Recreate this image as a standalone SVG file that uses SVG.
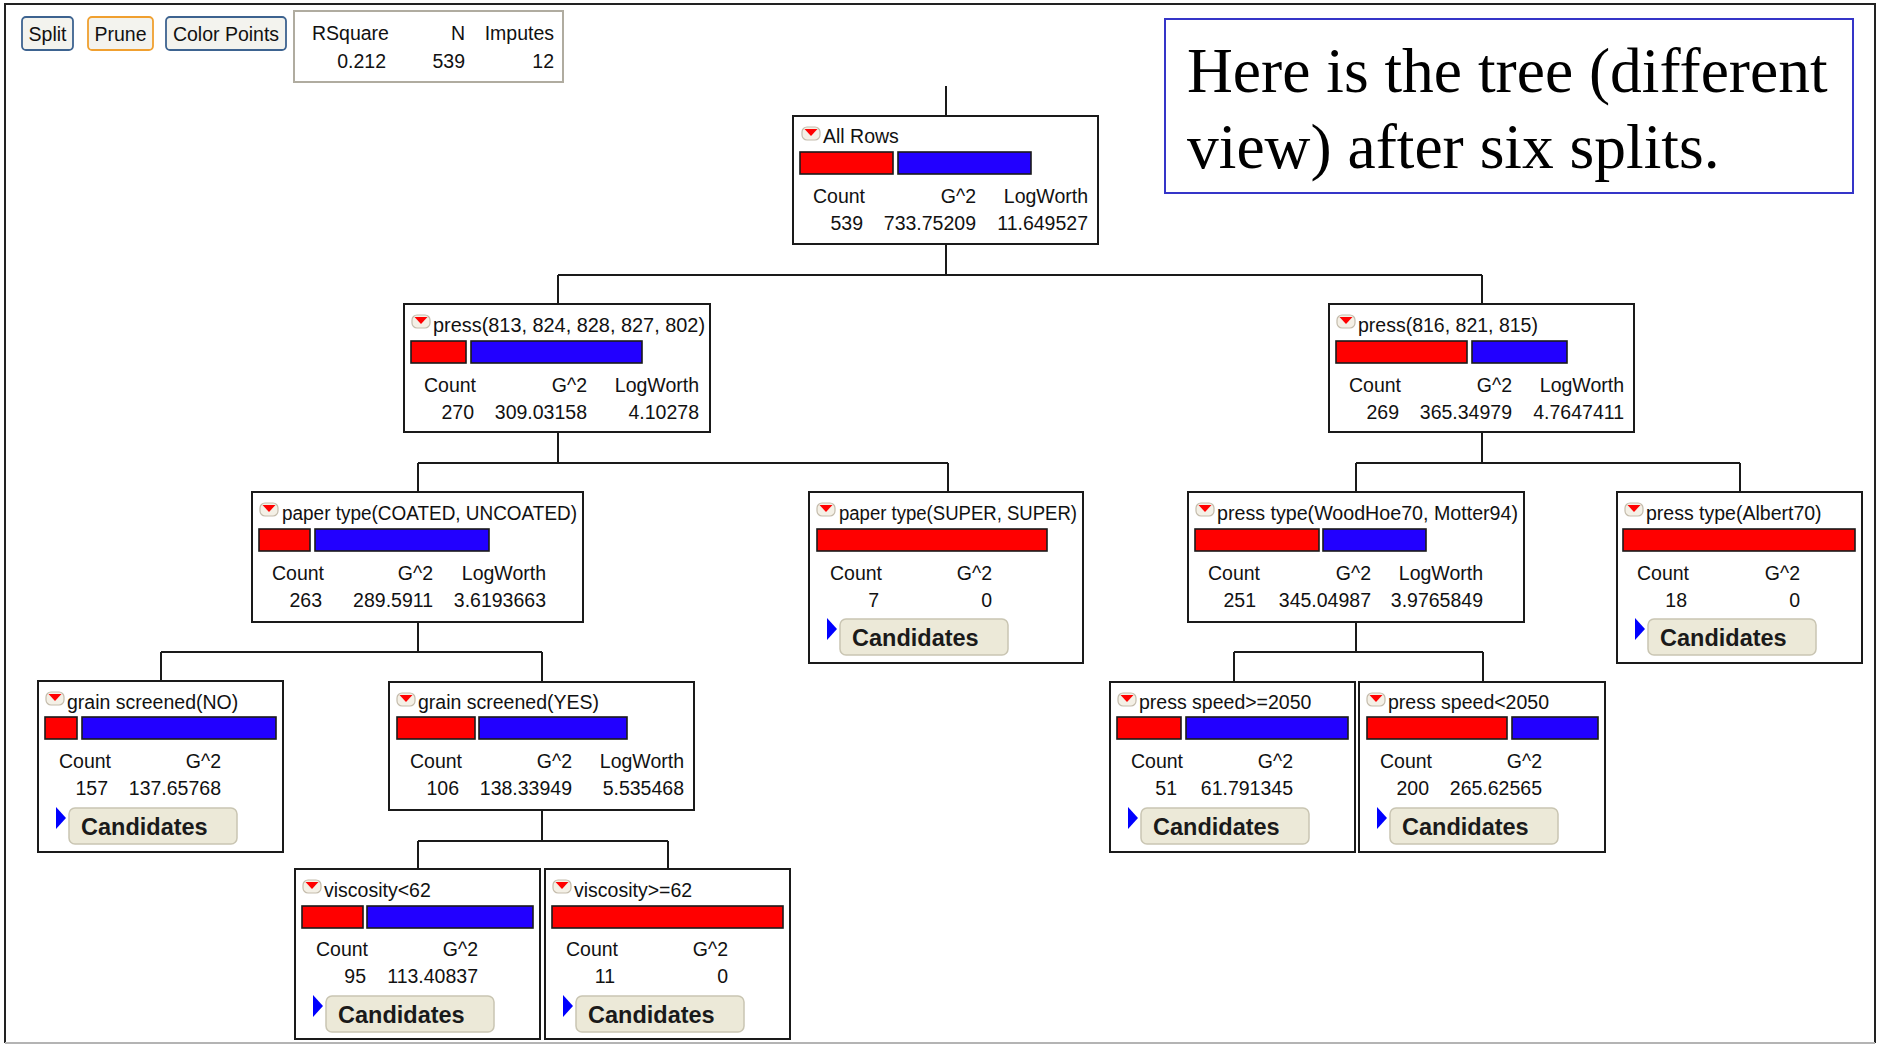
<svg xmlns="http://www.w3.org/2000/svg" width="1881" height="1046" viewBox="0 0 1881 1046">
  <defs>
    <style>
      .t { font-family: "Liberation Sans", Arial, sans-serif; font-size: 19.5px; fill: #111; }
      .r { text-anchor: end; }
      .box { fill: #fff; stroke: #1a1a1a; stroke-width: 2; }
      .red { fill: #ff0000; stroke: #1a1a1a; stroke-width: 1.6; }
      .blue { fill: #2200ff; stroke: #1a1a1a; stroke-width: 1.6; }
      .btn { fill: #ece9d8; stroke: #c9c5b2; stroke-width: 1.5; }
      .cand { font-family: "Liberation Sans", Arial, sans-serif; font-weight: bold; font-size: 23.5px; fill: #1a1a1a; }
      .tri { fill: #0000ff; }
      .link { fill: none; stroke: #1a1a1a; stroke-width: 2; }
      .tb { fill: #f3f3ee; stroke: #3d6390; stroke-width: 1.8; }
      .note { font-family: "Liberation Serif", "Times New Roman", serif; font-size: 63.5px; fill: #000; }
    </style>
    <!-- collapse/expand toggle drawn before each node title -->
    <g id="toggle">
      <rect x="0" y="0" width="18" height="13" rx="5" fill="#f4f0e6" stroke="#c4bcac" stroke-width="1.2"/>
      <path d="M2.5,2 H15.5 L9,9 Z" fill="#ff0000"/>
    </g>
    <!-- "Candidates" disclosure button -->
    <g id="cand">
      <path class="tri" d="M18,126 L28,137 L18,148 Z"/>
      <rect class="btn" x="31" y="127" width="168" height="36" rx="6"/>
      <text class="cand" x="43" y="154">Candidates</text>
    </g>
  </defs>

  <rect x="0" y="0" width="1881" height="1046" fill="#fff"/>
  <!-- window frame -->
  <path d="M5,1043 V4 H1875 V1043" fill="none" stroke="#222" stroke-width="2"/>
  <line x1="5" y1="1043" x2="1875" y2="1043" stroke="#b4b4b4" stroke-width="2"/>

  <!-- toolbar -->
  <g id="toolbar">
    <rect class="tb" x="22" y="17" width="51" height="33" rx="4"/>
    <text class="t" x="47.5" y="41" text-anchor="middle">Split</text>
    <rect class="tb" x="88" y="17" width="65" height="33" rx="4" style="stroke:#f0a030"/>
    <text class="t" x="120.5" y="41" text-anchor="middle">Prune</text>
    <rect class="tb" x="166" y="17" width="120" height="33" rx="4"/>
    <text class="t" x="226" y="41" text-anchor="middle">Color Points</text>
  </g>

  <g id="stats">
    <rect x="294" y="11" width="269" height="71" fill="#fff" stroke="#b0aca0" stroke-width="2"/>
    <text class="t" x="312" y="40">RSquare</text>
    <text class="t r" x="465" y="40">N</text>
    <text class="t r" x="554" y="40">Imputes</text>
    <text class="t r" x="386" y="68">0.212</text>
    <text class="t r" x="465" y="68">539</text>
    <text class="t r" x="554" y="68">12</text>
  </g>

  <g id="note">
    <rect x="1165" y="19" width="688" height="174" fill="#fff" stroke="#3535c8" stroke-width="2"/>
    <text class="note" x="1187" y="92">Here is the tree (different</text>
    <text class="note" x="1187" y="168">view) after six splits.</text>
  </g>

  <!-- connectors -->
  <g id="connectors">
    <path class="link" d="M946,86 V116"/>
    <path class="link" d="M946,244 V275 M558,275 H1482 M558,275 V304 M1482,275 V304"/>
    <path class="link" d="M558,432 V463 M418,463 H948 M418,463 V492 M948,463 V492"/>
    <path class="link" d="M1482,432 V463 M1356,463 H1740 M1356,463 V492 M1740,463 V492"/>
    <path class="link" d="M418,622 V652 M161,652 H542 M161,652 V681 M542,652 V682"/>
    <path class="link" d="M1356,622 V652 M1234,652 H1483 M1234,652 V682 M1483,652 V682"/>
    <path class="link" d="M542,810 V841 M418,841 H668 M418,841 V869 M668,841 V869"/>
  </g>

  <!-- nodes -->
  <g id="node-all-rows" transform="translate(793,116)">
    <rect class="box" width="305" height="128"/>
    <use href="#toggle" x="9" y="11"/>
    <text class="t" x="30" y="27">All Rows</text>
    <rect class="red" x="7" y="36" width="93" height="22"/>
    <rect class="blue" x="105" y="36" width="133" height="22"/>
    <text class="t" x="20" y="87">Count</text>
    <text class="t r" x="183" y="87">G^2</text>
    <text class="t r" x="295" y="87">LogWorth</text>
    <text class="t r" x="70" y="114">539</text>
    <text class="t r" x="183" y="114">733.75209</text>
    <text class="t r" x="295" y="114">11.649527</text>
  </g>

  <g id="node-press-a" transform="translate(404,304)">
    <rect class="box" width="306" height="128"/>
    <use href="#toggle" x="8" y="11"/>
    <text class="t" x="29" y="28" textLength="272" lengthAdjust="spacingAndGlyphs">press(813, 824, 828, 827, 802)</text>
    <rect class="red" x="7" y="37" width="55" height="22"/>
    <rect class="blue" x="67" y="37" width="171" height="22"/>
    <text class="t" x="20" y="88">Count</text>
    <text class="t r" x="183" y="88">G^2</text>
    <text class="t r" x="295" y="88">LogWorth</text>
    <text class="t r" x="70" y="115">270</text>
    <text class="t r" x="183" y="115">309.03158</text>
    <text class="t r" x="295" y="115">4.10278</text>
  </g>

  <g id="node-press-b" transform="translate(1329,304)">
    <rect class="box" width="305" height="128"/>
    <use href="#toggle" x="8" y="11"/>
    <text class="t" x="29" y="28">press(816, 821, 815)</text>
    <rect class="red" x="7" y="37" width="131" height="22"/>
    <rect class="blue" x="143" y="37" width="95" height="22"/>
    <text class="t" x="20" y="88">Count</text>
    <text class="t r" x="183" y="88">G^2</text>
    <text class="t r" x="295" y="88">LogWorth</text>
    <text class="t r" x="70" y="115">269</text>
    <text class="t r" x="183" y="115">365.34979</text>
    <text class="t r" x="295" y="115">4.7647411</text>
  </g>

  <g id="node-paper-coated" transform="translate(252,492)">
    <rect class="box" width="331" height="130"/>
    <use href="#toggle" x="8" y="11"/>
    <text class="t" x="30" y="28" textLength="295" lengthAdjust="spacingAndGlyphs">paper type(COATED, UNCOATED)</text>
    <rect class="red" x="7" y="37" width="51" height="22"/>
    <rect class="blue" x="63" y="37" width="174" height="22"/>
    <text class="t" x="20" y="88">Count</text>
    <text class="t r" x="181" y="88">G^2</text>
    <text class="t r" x="294" y="88">LogWorth</text>
    <text class="t r" x="70" y="115">263</text>
    <text class="t r" x="181" y="115">289.5911</text>
    <text class="t r" x="294" y="115">3.6193663</text>
  </g>

  <g id="node-paper-super" transform="translate(809,492)">
    <rect class="box" width="274" height="171"/>
    <use href="#toggle" x="8" y="11"/>
    <text class="t" x="30" y="28" textLength="238" lengthAdjust="spacingAndGlyphs">paper type(SUPER, SUPER)</text>
    <rect class="red" x="8" y="37" width="230" height="22"/>
    <text class="t" x="21" y="88">Count</text>
    <text class="t r" x="183" y="88">G^2</text>
    <text class="t r" x="70" y="115">7</text>
    <text class="t r" x="183" y="115">0</text>
    <use href="#cand"/>
  </g>

  <g id="node-presstype-wood" transform="translate(1188,492)">
    <rect class="box" width="336" height="130"/>
    <use href="#toggle" x="8" y="11"/>
    <text class="t" x="29" y="28" textLength="301" lengthAdjust="spacingAndGlyphs">press type(WoodHoe70, Motter94)</text>
    <rect class="red" x="7" y="37" width="124" height="22"/>
    <rect class="blue" x="135" y="37" width="103" height="22"/>
    <text class="t" x="20" y="88">Count</text>
    <text class="t r" x="183" y="88">G^2</text>
    <text class="t r" x="295" y="88">LogWorth</text>
    <text class="t r" x="68" y="115">251</text>
    <text class="t r" x="183" y="115">345.04987</text>
    <text class="t r" x="295" y="115">3.9765849</text>
  </g>

  <g id="node-presstype-albert" transform="translate(1617,492)">
    <rect class="box" width="245" height="171"/>
    <use href="#toggle" x="8" y="11"/>
    <text class="t" x="29" y="28">press type(Albert70)</text>
    <rect class="red" x="6" y="37" width="232" height="22"/>
    <text class="t" x="20" y="88">Count</text>
    <text class="t r" x="183" y="88">G^2</text>
    <text class="t r" x="70" y="115">18</text>
    <text class="t r" x="183" y="115">0</text>
    <use href="#cand"/>
  </g>

  <g id="node-grain-no" transform="translate(38,681)">
    <rect class="box" width="245" height="171"/>
    <use href="#toggle" x="8" y="11"/>
    <text class="t" x="29" y="28">grain screened(NO)</text>
    <rect class="red" x="7" y="36" width="32" height="22"/>
    <rect class="blue" x="44" y="36" width="194" height="22"/>
    <text class="t" x="21" y="87">Count</text>
    <text class="t r" x="183" y="87">G^2</text>
    <text class="t r" x="70" y="114">157</text>
    <text class="t r" x="183" y="114">137.65768</text>
    <use href="#cand"/>
  </g>

  <g id="node-grain-yes" transform="translate(389,682)">
    <rect class="box" width="305" height="128"/>
    <use href="#toggle" x="8" y="11"/>
    <text class="t" x="29" y="27">grain screened(YES)</text>
    <rect class="red" x="8" y="35" width="78" height="22"/>
    <rect class="blue" x="90" y="35" width="148" height="22"/>
    <text class="t" x="21" y="86">Count</text>
    <text class="t r" x="183" y="86">G^2</text>
    <text class="t r" x="295" y="86">LogWorth</text>
    <text class="t r" x="70" y="113">106</text>
    <text class="t r" x="183" y="113">138.33949</text>
    <text class="t r" x="295" y="113">5.535468</text>
  </g>

  <g id="node-speed-hi" transform="translate(1110,682)">
    <rect class="box" width="245" height="170"/>
    <use href="#toggle" x="8" y="11"/>
    <text class="t" x="29" y="27">press speed&gt;=2050</text>
    <rect class="red" x="7" y="35" width="64" height="22"/>
    <rect class="blue" x="76" y="35" width="162" height="22"/>
    <text class="t" x="21" y="86">Count</text>
    <text class="t r" x="183" y="86">G^2</text>
    <text class="t r" x="67" y="113">51</text>
    <text class="t r" x="183" y="113">61.791345</text>
    <use href="#cand" y="-1"/>
  </g>

  <g id="node-speed-lo" transform="translate(1359,682)">
    <rect class="box" width="246" height="170"/>
    <use href="#toggle" x="8" y="11"/>
    <text class="t" x="29" y="27">press speed&lt;2050</text>
    <rect class="red" x="8" y="35" width="140" height="22"/>
    <rect class="blue" x="153" y="35" width="86" height="22"/>
    <text class="t" x="21" y="86">Count</text>
    <text class="t r" x="183" y="86">G^2</text>
    <text class="t r" x="70" y="113">200</text>
    <text class="t r" x="183" y="113">265.62565</text>
    <use href="#cand" y="-1"/>
  </g>

  <g id="node-visc-lo" transform="translate(295,869)">
    <rect class="box" width="245" height="170"/>
    <use href="#toggle" x="8" y="11"/>
    <text class="t" x="29" y="28">viscosity&lt;62</text>
    <rect class="red" x="7" y="37" width="61" height="22"/>
    <rect class="blue" x="72" y="37" width="166" height="22"/>
    <text class="t" x="21" y="87">Count</text>
    <text class="t r" x="183" y="87">G^2</text>
    <text class="t r" x="71" y="114">95</text>
    <text class="t r" x="183" y="114">113.40837</text>
    <use href="#cand"/>
  </g>

  <g id="node-visc-hi" transform="translate(545,869)">
    <rect class="box" width="245" height="170"/>
    <use href="#toggle" x="8" y="11"/>
    <text class="t" x="29" y="28">viscosity&gt;=62</text>
    <rect class="red" x="7" y="37" width="231" height="22"/>
    <text class="t" x="21" y="87">Count</text>
    <text class="t r" x="183" y="87">G^2</text>
    <text class="t r" x="70" y="114">11</text>
    <text class="t r" x="183" y="114">0</text>
    <use href="#cand"/>
  </g>
</svg>
